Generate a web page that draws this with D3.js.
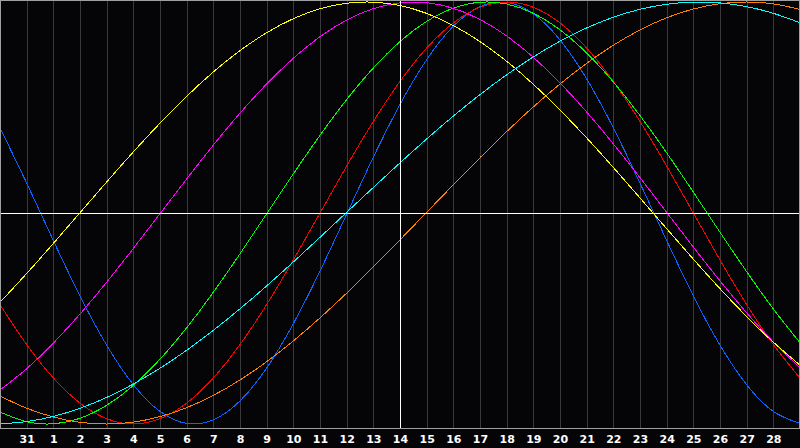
<!DOCTYPE html>
<html>
<head>
<meta charset="utf-8">
<script src="https://cdn.jsdelivr.net/npm/d3@7"></script>
<style>
html,body{margin:0;padding:0;background:#050508;overflow:hidden;}
svg{display:block;}
</style>
</head>
<body>
<svg id="chart" width="800" height="448"></svg>
<script>
// Day labels (day index 1..29); index 0 and 30 are the off-screen edges
const dayLabels = ["31","1","2","3","4","5","6","7","8","9","10","11","12","13","14","15","16","17","18","19","20","21","22","23","24","25","26","27","28"];
const todayIndex = 15; // "14"

// Values per day index 0..30
const physical = [0.4035,0.1418,-0.1305,-0.3933,-0.6267,-0.8137,-0.9404,-0.9973,-0.9802,-0.8904,-0.7346,-0.5245,-0.2752,-0.0056,0.2644,0.5146,0.7268,0.8853,0.9779,0.9980,0.9442,0.8203,0.6355,0.4035,0.1418,-0.1305,-0.3933,-0.6267,-0.8137,-0.9404,-0.9973];
const emotional = [-0.4339,-0.6235,-0.7818,-0.9010,-0.9749,-1.0000,-0.9749,-0.9010,-0.7818,-0.6235,-0.4339,-0.2225,0.0000,0.2225,0.4339,0.6235,0.7818,0.9010,0.9749,1.0000,0.9749,0.9010,0.7818,0.6235,0.4339,0.2225,0.0000,-0.2225,-0.4339,-0.6235,-0.7818];
const intellectual = [-0.9437,-0.9893,-0.9990,-0.9727,-0.9112,-0.8169,-0.6929,-0.5440,-0.3753,-0.1931,-0.0038,0.1855,0.3681,0.5374,0.6873,0.8124,0.9080,0.9709,0.9987,0.9904,0.9463,0.8679,0.7580,0.6211,0.4616,0.2853,0.0990,-0.0912,-0.2780,-0.4548,-0.6151];
const intuitive = [-0.8390,-0.7380,-0.6167,-0.4789,-0.3277,-0.1678,-0.0033,0.1614,0.3216,0.4732,0.6117,0.7334,0.8355,0.9145,0.9686,0.9963,0.9968,0.9702,0.9171,0.8389,0.7379,0.6167,0.4787,0.3277,0.1676,0.0031,-0.1614,-0.3218,-0.4732,-0.6119,-0.7335];
const aesthetic = [-0.4231,-0.2867,-0.1442,0.0014,0.1471,0.2895,0.4258,0.5529,0.6685,0.7697,0.8544,0.9210,0.9678,0.9942,0.9993,0.9831,0.9460,0.8886,0.8124,0.7190,0.6101,0.4881,0.3559,0.2159,0.0715,-0.0745,-0.2188,-0.3585,-0.4907,-0.6124,-0.7210];
const awareness = [-0.8677,-0.9252,-0.9668,-0.9919,-1.0000,-0.9910,-0.9651,-0.9226,-0.8643,-0.7913,-0.7047,-0.6061,-0.4971,-0.3796,-0.2556,-0.1272,0.0033,0.1338,0.2620,0.3857,0.5029,0.6114,0.7095,0.7952,0.8677,0.9252,0.9668,0.9919,1.0000,0.9910,0.9651];
const spiritual = [-0.9995,-0.9886,-0.9639,-0.9255,-0.8742,-0.8106,-0.7357,-0.6505,-0.5562,-0.4540,-0.3454,-0.2321,-0.1153,0.0030,0.1212,0.2377,0.3508,0.4593,0.5611,0.6550,0.7398,0.8142,0.8771,0.9278,0.9654,0.9895,0.9996,0.9958,0.9780,0.9464,0.9016];

const seriesNames = ["physical","emotional","intellectual","intuitive","aesthetic","awareness","spiritual"];
const seriesValues = [physical, emotional, intellectual, intuitive, aesthetic, awareness, spiritual];
const seriesColors = ["#0a64ff","#ff0000","#00ff00","#ff00ff","#ffff00","#ff7f00","#00ffff"];

const W = 800, H = 448;
const svg = d3.select("#chart");

const x = d3.scaleLinear().domain([0, 30]).range([0, 800]);
const y = d3.scaleLinear().domain([-1, 1]).range([424, 2]);

svg.append("rect").attr("x",0).attr("y",0).attr("width",W).attr("height",H).attr("fill","#050508");

// vertical grid
const gridIdx = d3.range(1, dayLabels.length + 1);
svg.append("g").selectAll("line").data(gridIdx.filter(d => d !== todayIndex)).join("line")
  .attr("x1", d => Math.round(x(d)) + 0.5).attr("x2", d => Math.round(x(d)) + 0.5)
  .attr("y1", 0).attr("y2", 428)
  .attr("stroke", "#3a3a3e").attr("stroke-width", 1).attr("shape-rendering","crispEdges");

// curves
const line = d3.line().x((d,i) => x(i)).y(d => y(d)).curve(d3.curveNatural);
svg.append("g").selectAll("path").data(seriesValues).join("path")
  .attr("d", d => line(d))
  .attr("fill","none")
  .attr("stroke", (d,i) => seriesColors[i])
  .attr("stroke-width", 1)
  .attr("shape-rendering","crispEdges");

// center line and today line
svg.append("line").attr("x1",0).attr("x2",800).attr("y1",Math.round(y(0))+0.5).attr("y2",Math.round(y(0))+0.5)
  .attr("stroke","#ffffff").attr("stroke-width",1).attr("shape-rendering","crispEdges");
svg.append("line").attr("x1",Math.round(x(todayIndex))+0.5).attr("x2",Math.round(x(todayIndex))+0.5).attr("y1",0).attr("y2",428)
  .attr("stroke","#ffffff").attr("stroke-width",1).attr("shape-rendering","crispEdges");

// border / axis
svg.append("rect").attr("x",0.5).attr("y",0.5).attr("width",798.5).attr("height",427.5)
  .attr("fill","none").attr("stroke","#a0a0a0").attr("stroke-width",1).attr("shape-rendering","crispEdges");

// labels
svg.append("g").selectAll("text").data(dayLabels).join("text")
  .attr("x", (d,i) => x(i + 1) + 0.5)
  .attr("y", 443)
  .attr("text-anchor","middle")
  .attr("fill","#ffffff")
  .attr("font-family","DejaVu Sans, sans-serif")
  .attr("font-weight","bold")
  .attr("font-size","11px")
  .text(d => d);
</script>
</body>
</html>
